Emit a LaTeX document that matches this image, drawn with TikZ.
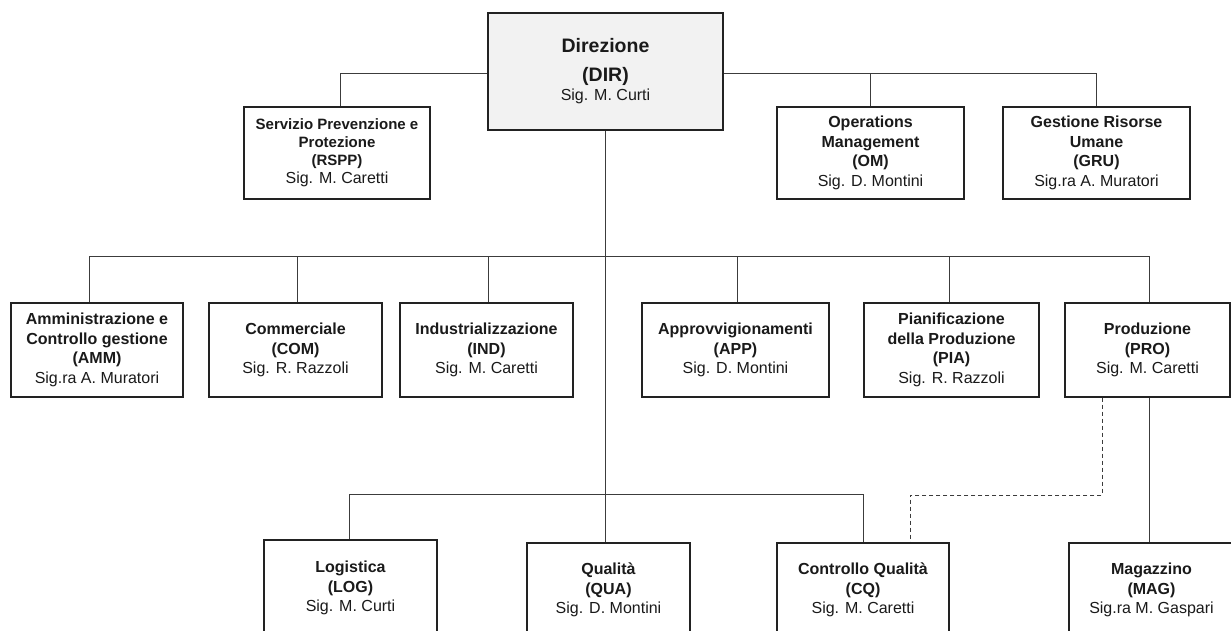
\documentclass[tikz,border=0pt]{standalone}
\usepackage{fontspec}
\setmainfont{Liberation Sans}
\usetikzlibrary{backgrounds}
\definecolor{boxline}{HTML}{222222}
\definecolor{connline}{HTML}{3C3C3C}
\definecolor{txt}{HTML}{1A1A1A}
\definecolor{dirfill}{HTML}{F2F2F2}
\begin{document}
\begin{tikzpicture}[x=1pt,y=-1pt,
  box/.style={draw=boxline, line width=1.2pt, fill=white, align=center, inner sep=0pt,
    font=\fontsize{16}{19.5}\selectfont, text=txt},
  conn/.style={draw=connline, line width=0.9pt},
  dashconn/.style={conn, dash pattern=on 4pt off 3pt}]
\useasboundingbox (0,0) rectangle (1231,630);

% top level
\node[box, fill=dirfill, minimum width=235pt, minimum height=117pt] (DIR) at (605.5,71.5)
  {\textbf{\fontsize{19.5}{20}\selectfont Direzione}\\[9pt]\textbf{\fontsize{19.5}{20}\selectfont (DIR)}\\Sig. M. Curti};

\node[box, minimum width=186pt, minimum height=92pt, font=\fontsize{15}{18}\selectfont] (RSPP) at (337,153)
  {\textbf{Servizio Prevenzione e}\\\textbf{Protezione}\\\textbf{(RSPP)}\\{\fontsize{16}{18}\selectfont Sig. M. Caretti}};
\node[box, minimum width=187pt, minimum height=92pt] (OM) at (870.5,153)
  {\textbf{Operations}\\\textbf{Management}\\\textbf{(OM)}\\Sig. D. Montini};
\node[box, minimum width=187pt, minimum height=92pt] (GRU) at (1096.5,153)
  {\textbf{Gestione Risorse}\\\textbf{Umane}\\\textbf{(GRU)}\\Sig.ra A. Muratori};

% middle level
\node[box, minimum width=172pt, minimum height=94pt] (AMM) at (97,350)
  {\textbf{Amministrazione e}\\\textbf{Controllo gestione}\\\textbf{(AMM)}\\Sig.ra A. Muratori};
\node[box, minimum width=173pt, minimum height=94pt] (COM) at (295.5,350)
  {\textbf{Commerciale}\\\textbf{(COM)}\\Sig. R. Razzoli};
\node[box, minimum width=173pt, minimum height=94pt] (IND) at (486.5,350)
  {\textbf{Industrializzazione}\\\textbf{(IND)}\\Sig. M. Caretti};
\node[box, minimum width=187pt, minimum height=94pt] (APP) at (735.5,350)
  {\textbf{Approvvigionamenti}\\\textbf{(APP)}\\Sig. D. Montini};
\node[box, minimum width=175pt, minimum height=94pt] (PIA) at (951.5,350)
  {\textbf{Pianificazione}\\\textbf{della Produzione}\\\textbf{(PIA)}\\Sig. R. Razzoli};
\node[box, minimum width=165pt, minimum height=94pt] (PRO) at (1147.5,350)
  {\textbf{Produzione}\\\textbf{(PRO)}\\Sig. M. Caretti};

% bottom level
\node[box, minimum width=173pt, minimum height=96pt] (LOG) at (350.5,588)
  {\textbf{Logistica}\\\textbf{(LOG)}\\Sig. M. Curti};
\node[box, minimum width=163pt, minimum height=94pt] (QUA) at (608.5,590)
  {\textbf{Qualità}\\\textbf{(QUA)}\\Sig. D. Montini};
\node[box, minimum width=172pt, minimum height=94pt] (CQ) at (863,590)
  {\textbf{Controllo Qualità}\\\textbf{(CQ)}\\Sig. M. Caretti};
\node[box, minimum width=165pt, minimum height=94pt] (MAG) at (1151.5,590)
  {\textbf{Magazzino}\\\textbf{(MAG)}\\Sig.ra M. Gaspari};

\begin{scope}[on background layer]
  \coordinate (bus0) at (605.5,73);
  \coordinate (bus1) at (605.5,256);
  \coordinate (bus2) at (605.5,494);
  \coordinate (dc) at (910,495);
  % top bus
  \draw[conn] ([xshift=3pt]RSPP.north) |- (bus0);
  \draw[conn] (OM.north) |- (bus0);
  \draw[conn] (GRU.north) |- (bus0);
  % trunk
  \draw[conn] (DIR.south) -- (DIR.south |- QUA.north);
  % middle bus
  \draw[conn] ([xshift=-8pt]AMM.north) |- (bus1);
  \draw[conn] ([xshift=2pt]COM.north) |- (bus1);
  \draw[conn] ([xshift=2pt]IND.north) |- (bus1);
  \draw[conn] ([xshift=2pt]APP.north) |- (bus1);
  \draw[conn] ([xshift=-2pt]PIA.north) |- (bus1);
  \draw[conn] ([xshift=1.5pt]PRO.north) |- (bus1);
  % bottom bus
  \draw[conn] ([xshift=-1.5pt]LOG.north) |- (bus2);
  \draw[conn] (CQ.north) |- (bus2);
  % production links
  \draw[conn] ([xshift=1.5pt]PRO.south) -- ([xshift=1.5pt]PRO.south |- MAG.north);
  \draw[dashconn] ([xshift=-45.5pt]PRO.south) |- (dc) -- (dc |- CQ.north);
\end{scope}
\end{tikzpicture}
\end{document}
